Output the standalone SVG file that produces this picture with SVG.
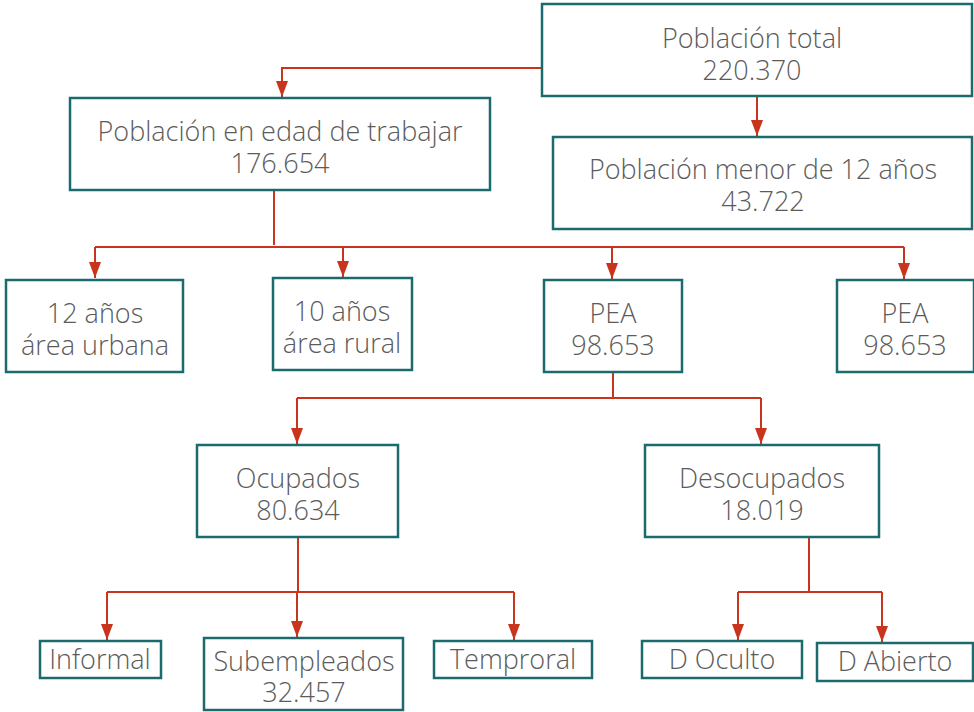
<svg xmlns="http://www.w3.org/2000/svg" width="974" height="712" viewBox="0 0 974 712">
<style>
.box{fill:#fff;stroke:#1b6b6e;stroke-width:2.5}
.t{font-family:"Open Sans",Lato,sans-serif;font-weight:300;font-size:27px;fill:#5b5b5b;text-anchor:middle}
.c{fill:none;stroke:#c8341c;stroke-width:2}
</style>
<defs>
<marker id="ah" viewBox="0 0 16 12" refX="16" refY="6" markerWidth="16" markerHeight="12" markerUnits="userSpaceOnUse" orient="auto">
<path d="M0,0 L16,6 L0,12 z" fill="#c8341c"/>
</marker>
</defs>
<rect width="974" height="712" fill="#fff"/>
<g id="connectors">
<path class="c" d="M542,68 H282 V97" marker-end="url(#ah)"/>
<path class="c" d="M757,96 V136" marker-end="url(#ah)"/>
<path class="c" d="M274,190 V245"/>
<path class="c" d="M95,247 H904"/>
<path class="c" d="M95,247 V278" marker-end="url(#ah)"/>
<path class="c" d="M343,247 V277" marker-end="url(#ah)"/>
<path class="c" d="M612,247 V279" marker-end="url(#ah)"/>
<path class="c" d="M904,247 V279" marker-end="url(#ah)"/>
<path class="c" d="M613,372 V398"/>
<path class="c" d="M297,398 H761"/>
<path class="c" d="M297,398 V444" marker-end="url(#ah)"/>
<path class="c" d="M761,398 V444" marker-end="url(#ah)"/>
<path class="c" d="M298,537 V592"/>
<path class="c" d="M107,592 H514"/>
<path class="c" d="M107,592 V640" marker-end="url(#ah)"/>
<path class="c" d="M297,592 V637" marker-end="url(#ah)"/>
<path class="c" d="M514,592 V640" marker-end="url(#ah)"/>
<path class="c" d="M809,537 V592"/>
<path class="c" d="M738,592 H882"/>
<path class="c" d="M738,592 V640" marker-end="url(#ah)"/>
<path class="c" d="M882,592 V642" marker-end="url(#ah)"/>
</g>
<g id="n-total"><rect class="box" x="542" y="4" width="430" height="92"/><text class="t" x="752" y="48">Población total</text><text class="t" x="752" y="80">220.370</text></g>
<g id="n-edad"><rect class="box" x="70" y="98" width="420" height="92"/><text class="t" x="280" y="141">Población en edad de trabajar</text><text class="t" x="280" y="173">176.654</text></g>
<g id="n-menor"><rect class="box" x="553" y="137" width="419" height="92"/><text class="t" x="763" y="179">Población menor de 12 años</text><text class="t" x="763" y="211">43.722</text></g>
<g id="n-urbana"><rect class="box" x="6" y="280" width="177" height="92"/><text class="t" x="95" y="323">12 años</text><text class="t" x="95" y="355">área urbana</text></g>
<g id="n-rural"><rect class="box" x="273" y="278" width="139" height="92"/><text class="t" x="342" y="321">10 años</text><text class="t" x="342" y="353">área rural</text></g>
<g id="n-pea"><rect class="box" x="544" y="280" width="138" height="92"/><text class="t" x="613" y="323">PEA</text><text class="t" x="613" y="355">98.653</text></g>
<g id="n-pea2"><rect class="box" x="837" y="280" width="137" height="92"/><text class="t" x="905" y="323">PEA</text><text class="t" x="905" y="355">98.653</text></g>
<g id="n-ocupados"><rect class="box" x="197" y="445" width="201" height="92"/><text class="t" x="298" y="488">Ocupados</text><text class="t" x="298" y="520">80.634</text></g>
<g id="n-desocupados"><rect class="box" x="645" y="445" width="234" height="92"/><text class="t" x="762" y="488">Desocupados</text><text class="t" x="762" y="520">18.019</text></g>
<g id="n-informal"><rect class="box" x="40" y="641" width="121" height="37"/><text class="t" x="100" y="669">Informal</text></g>
<g id="n-subempleados"><rect class="box" x="204" y="638" width="199" height="72"/><text class="t" x="304" y="671">Subempleados</text><text class="t" x="304" y="702">32.457</text></g>
<g id="n-temproral"><rect class="box" x="434" y="641" width="158" height="37"/><text class="t" x="513" y="669">Temproral</text></g>
<g id="n-oculto"><rect class="box" x="642" y="641" width="160" height="37"/><text class="t" x="722" y="669">D Oculto</text></g>
<g id="n-abierto"><rect class="box" x="817" y="643" width="156" height="38"/><text class="t" x="895" y="671">D Abierto</text></g>
</svg>
